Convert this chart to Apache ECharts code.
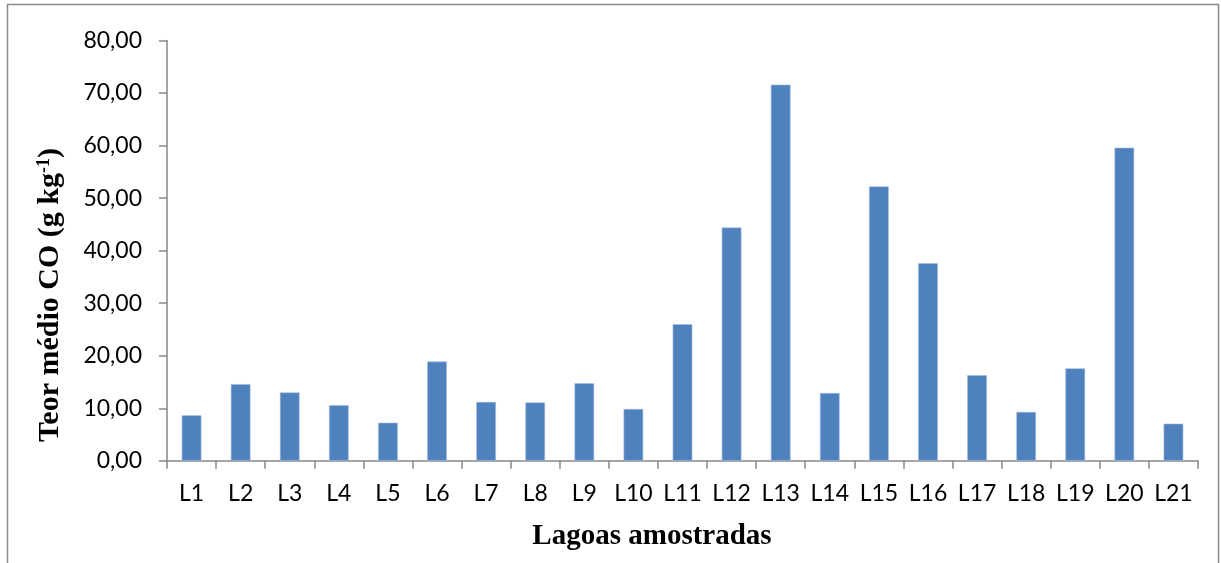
<!DOCTYPE html>
<html>
<head>
<meta charset="utf-8">
<style>
  html, body { margin: 0; padding: 0; background: #ffffff; }
  #chart { width: 1221px; height: 563px; }
</style>
<script src="https://cdn.jsdelivr.net/npm/echarts@6/dist/echarts.min.js"></script>
</head>
<body>
<div id="chart"></div>
<script>
// Lagoas amostradas (sampled lagoons)
const lagoas = ['L1', 'L2', 'L3', 'L4', 'L5', 'L6', 'L7', 'L8', 'L9', 'L10', 'L11',
                'L12', 'L13', 'L14', 'L15', 'L16', 'L17', 'L18', 'L19', 'L20', 'L21'];
// Teor médio de CO (g kg-1)
const teorCO = [8.66, 14.6, 13.0, 10.6, 7.25, 18.9, 11.2, 11.1, 14.75, 9.86, 26.0,
                44.4, 71.6, 12.9, 52.2, 37.6, 16.3, 9.3, 17.6, 59.6, 7.06];
const yMin = 0;
const yMax = 80;
const yStep = 10;

const axisGray = '#868686';
const labelFont = 'Lato, "Open Sans", sans-serif';
const titleFont = '"Liberation Serif", "DejaVu Serif", serif';

const chart = echarts.init(document.getElementById('chart'), null, { renderer: 'canvas' });

chart.setOption({
  animation: false,
  backgroundColor: '#ffffff',
  grid: { left: 167, right: 23, top: 40.5, bottom: 102.2, containLabel: false },
  xAxis: {
    type: 'category',
    data: lagoas,
    axisLine: { lineStyle: { color: axisGray, width: 1.5 } },
    axisTick: { show: true, length: 8, lineStyle: { color: axisGray, width: 1.5 } },
    axisLabel: { color: '#000', fontFamily: labelFont, fontSize: 23, margin: 21, interval: 0 },
    splitLine: { show: false }
  },
  yAxis: {
    type: 'value',
    min: yMin,
    max: yMax,
    interval: yStep,
    axisLine: { show: true, lineStyle: { color: axisGray, width: 1.5 } },
    axisTick: { show: true, length: 8, lineStyle: { color: axisGray, width: 1.5 } },
    axisLabel: {
      color: '#000', fontFamily: labelFont, fontSize: 23, margin: 25,
      formatter: v => v.toFixed(2).replace('.', ',')
    },
    splitLine: { show: false }
  },
  series: [{
    type: 'bar',
    data: teorCO,
    barCategoryGap: '60%',
    itemStyle: { color: '#4F81BD', borderColor: '#9fbbe0', borderWidth: 0.6 }
  }],
  graphic: [
    {
      type: 'rect',
      shape: { x: 7.5, y: 4.5, width: 1211, height: 600 },
      style: { fill: 'none', stroke: '#8c8c8c', lineWidth: 1.5 },
      silent: true
    },
    {
      type: 'text',
      x: 50,
      y: 295,
      rotation: Math.PI / 2,
      style: {
        text: '{t|Teor médio CO (g kg}{s|-1}{t|)}',
        align: 'center',
        verticalAlign: 'middle',
        rich: {
          t: { fontFamily: titleFont, fontWeight: 'bold', fontSize: 30, fill: '#000' },
          s: { fontFamily: titleFont, fontWeight: 'bold', fontSize: 18, fill: '#000', verticalAlign: 'top', padding: [0, 0, 12, 0] }
        }
      }
    },
    {
      type: 'text',
      x: 652,
      y: 537,
      style: {
        text: 'Lagoas amostradas',
        align: 'center',
        verticalAlign: 'middle',
        fontFamily: titleFont,
        fontWeight: 'bold',
        fontSize: 29,
        fill: '#000'
      }
    }
  ]
});
</script>
</body>
</html>
